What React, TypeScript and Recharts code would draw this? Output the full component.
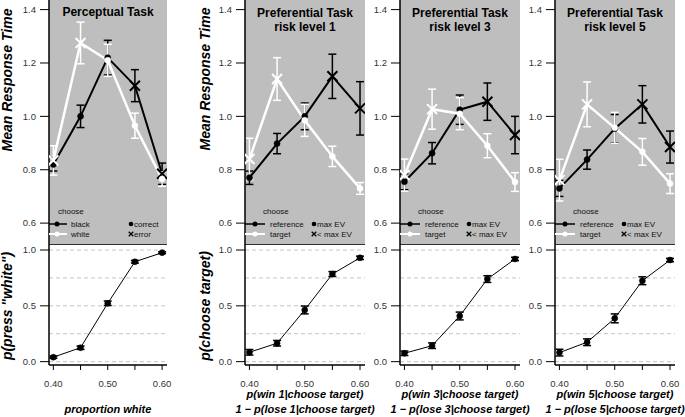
import React from 'react';
import { LineChart, Line, XAxis, YAxis, ErrorBar, CartesianGrid, ReferenceLine } from 'recharts';

// ---------- data ----------
const X_VALUES = [0.4, 0.45, 0.5, 0.55, 0.6];
const X_LABELED = [0.4, 0.5, 0.6];
const RT_TICKS = [0.6, 0.8, 1.0, 1.2, 1.4];
const P_TICKS = [0, 0.5, 1];
const P_GRID = [0, 0.25, 0.5, 0.75, 1];

type Shape = 'o' | 'x';

// Perceptual task
const P1_BLACK_RT = [0.82, 1.0, 1.22, 1.115, 0.785];
const P1_BLACK_ERR = [0.025, 0.042, 0.065, 0.06, 0.04];
const P1_BLACK_SHAPE: Shape[] = ['o', 'o', 'o', 'x', 'x'];
const P1_WHITE_RT = [0.835, 1.275, 1.21, 0.965, 0.765];
const P1_WHITE_ERR = [0.055, 0.078, 0.06, 0.047, 0.027];
const P1_WHITE_SHAPE: Shape[] = ['x', 'x', 'o', 'o', 'o'];
const P1_CHOICE = [0.04, 0.125, 0.523, 0.895, 0.976];
const P1_CHOICE_ERR = [0.01, 0.015, 0.02, 0.012, 0.008];

// Preferential risk level 1
const P2_REF_RT = [0.77, 0.898, 1.0, 1.15, 1.03];
const P2_REF_ERR = [0.025, 0.038, 0.05, 0.083, 0.1];
const P2_TGT_RT = [0.84, 1.14, 0.985, 0.85, 0.73];
const P2_TGT_ERR = [0.078, 0.08, 0.06, 0.038, 0.022];
const P2_CHOICE = [0.084, 0.165, 0.463, 0.785, 0.93];
const P2_CHOICE_ERR = [0.025, 0.025, 0.035, 0.022, 0.015];

// Preferential risk level 3
const P3_REF_RT = [0.755, 0.862, 1.025, 1.055, 0.93];
const P3_REF_ERR = [0.03, 0.04, 0.055, 0.07, 0.07];
const P3_TGT_RT = [0.78, 1.027, 1.01, 0.89, 0.754];
const P3_TGT_ERR = [0.06, 0.075, 0.06, 0.045, 0.035];
const P3_CHOICE = [0.075, 0.143, 0.409, 0.74, 0.92];
const P3_CHOICE_ERR = [0.02, 0.025, 0.035, 0.03, 0.015];

// Preferential risk level 5
const P4_REF_RT = [0.73, 0.838, 0.954, 1.045, 0.885];
const P4_REF_ERR = [0.03, 0.036, 0.053, 0.07, 0.06];
const P4_TGT_RT = [0.761, 1.045, 0.957, 0.867, 0.748];
const P4_TGT_ERR = [0.078, 0.084, 0.058, 0.05, 0.037];
const P4_CHOICE = [0.081, 0.174, 0.388, 0.725, 0.91];
const P4_CHOICE_ERR = [0.03, 0.03, 0.04, 0.035, 0.015];

const PREF_REF_SHAPE: Shape[] = ['o', 'o', 'o', 'x', 'x'];
const PREF_TGT_SHAPE: Shape[] = ['x', 'x', 'o', 'o', 'o'];

// ---------- style ----------
const FONT = '"Liberation Sans", Arial, Helvetica, sans-serif';
const GRAY = '#bebebe';
const AXIS_W = 35;
const RIGHT_PAD = 12;
const TOP_H = 245;
const BOT_PLOT_H = 120;
const X_AXIS_H = 30;
const X_DOMAIN: [number, number] = [0.392, 0.609];
const RT_DOMAIN: [number, number] = [0.518, 1.436];
const P_DOMAIN: [number, number] = [-0.03, 1.045];

interface PanelDef {
  plotLeft: number;
  plotWidth: number;
  aRT: number[]; aErr: number[]; aShape: Shape[];
  bRT: number[]; bErr: number[]; bShape: Shape[];
  choice: number[]; choiceErr: number[];
}

const PANELS: PanelDef[] = [
  { plotLeft: 49, plotWidth: 118, aRT: P1_BLACK_RT, aErr: P1_BLACK_ERR, aShape: P1_BLACK_SHAPE, bRT: P1_WHITE_RT, bErr: P1_WHITE_ERR, bShape: P1_WHITE_SHAPE, choice: P1_CHOICE, choiceErr: P1_CHOICE_ERR },
  { plotLeft: 245, plotWidth: 120, aRT: P2_REF_RT, aErr: P2_REF_ERR, aShape: PREF_REF_SHAPE, bRT: P2_TGT_RT, bErr: P2_TGT_ERR, bShape: PREF_TGT_SHAPE, choice: P2_CHOICE, choiceErr: P2_CHOICE_ERR },
  { plotLeft: 400, plotWidth: 120, aRT: P3_REF_RT, aErr: P3_REF_ERR, aShape: PREF_REF_SHAPE, bRT: P3_TGT_RT, bErr: P3_TGT_ERR, bShape: PREF_TGT_SHAPE, choice: P3_CHOICE, choiceErr: P3_CHOICE_ERR },
  { plotLeft: 555, plotWidth: 120, aRT: P4_REF_RT, aErr: P4_REF_ERR, aShape: PREF_REF_SHAPE, bRT: P4_TGT_RT, bErr: P4_TGT_ERR, bShape: PREF_TGT_SHAPE, choice: P4_CHOICE, choiceErr: P4_CHOICE_ERR },
];

function makeDot(color: string, shapes: Shape[], r = 3) {
  return (props: any) => {
    const { cx, cy, index } = props;
    const key = `dot-${color}-${index}`;
    if (cx == null || cy == null) return <g key={key} />;
    if (shapes[index] === 'x') {
      const s = 5;
      return (
        <path key={key} d={`M${cx - s},${cy - s}L${cx + s},${cy + s}M${cx - s},${cy + s}L${cx + s},${cy - s}`}
          stroke={color} strokeWidth={2} fill="none" />
      );
    }
    return <circle key={key} cx={cx} cy={cy} r={r} fill={color} stroke={color} strokeWidth={0.5} />;
  };
}

const tickStyle = { fontSize: 9.5, fill: '#333', fontFamily: FONT };

function TopChart({ p }: { p: PanelDef }) {
  const data = X_VALUES.map((x, i) => ({ x, a: p.aRT[i], aErr: p.aErr[i], b: p.bRT[i], bErr: p.bErr[i] }));
  return (
    <div style={{ position: 'absolute', left: p.plotLeft - AXIS_W, top: 0 }}>
      <LineChart width={AXIS_W + p.plotWidth} height={TOP_H} data={data} margin={{ top: 0, right: 0, bottom: 0, left: 0 }}>
        <CartesianGrid fill={GRAY} stroke="none" horizontal={false} vertical={false} />
        <XAxis dataKey="x" type="number" domain={X_DOMAIN} allowDataOverflow hide />
        <YAxis type="number" domain={RT_DOMAIN} allowDataOverflow ticks={RT_TICKS} interval={0} width={AXIS_W}
          tickFormatter={(v: number) => v.toFixed(1)} tick={tickStyle} tickSize={9} tickMargin={4}
          tickLine={{ stroke: '#000', strokeWidth: 1 }} axisLine={{ stroke: '#000', strokeWidth: 1.5 }} />
        <ReferenceLine y={RT_DOMAIN[0]} stroke="#000" strokeWidth={1.5} />
        <Line dataKey="a" stroke="#000" strokeWidth={2} dot={makeDot('#000', p.aShape)} isAnimationActive={false}>
          <ErrorBar dataKey="aErr" width={4} stroke="#000" strokeWidth={1.5} />
        </Line>
        <Line dataKey="b" stroke="#fff" strokeWidth={2.5} dot={makeDot('#fff', p.bShape)} isAnimationActive={false}>
          <ErrorBar dataKey="bErr" width={4} stroke="#fff" strokeWidth={1.5} />
        </Line>
      </LineChart>
    </div>
  );
}

function BottomChart({ p }: { p: PanelDef }) {
  const data = X_VALUES.map((x, i) => ({ x, c: p.choice[i], cErr: p.choiceErr[i] }));
  return (
    <div style={{ position: 'absolute', left: p.plotLeft - AXIS_W, top: TOP_H }}>
      <LineChart width={AXIS_W + p.plotWidth + RIGHT_PAD} height={BOT_PLOT_H + X_AXIS_H} data={data}
        margin={{ top: 0, right: RIGHT_PAD, bottom: 0, left: 0 }}>
        <XAxis dataKey="x" type="number" domain={X_DOMAIN} allowDataOverflow ticks={X_VALUES} interval={0} height={X_AXIS_H}
          tickFormatter={(v: number) => (X_LABELED.some((t) => Math.abs(t - v) < 1e-6) ? v.toFixed(2) : '')}
          tick={tickStyle} tickSize={5} tickMargin={10}
          tickLine={{ stroke: '#000', strokeWidth: 1 }} axisLine={{ stroke: '#000', strokeWidth: 1.5 }} />
        <YAxis type="number" domain={P_DOMAIN} allowDataOverflow ticks={P_TICKS} interval={0} width={AXIS_W}
          tickFormatter={(v: number) => v.toFixed(1)} tick={tickStyle} tickSize={9} tickMargin={4}
          tickLine={{ stroke: '#000', strokeWidth: 1 }} axisLine={{ stroke: '#000', strokeWidth: 1.5 }} />
        {P_GRID.map((g) => (
          <ReferenceLine key={g} y={g} stroke="#c4c4c4" strokeWidth={1} strokeDasharray="4 3" />
        ))}
        <Line dataKey="c" stroke="#000" strokeWidth={1} dot={makeDot('#000', ['o', 'o', 'o', 'o', 'o'], 3)} isAnimationActive={false}>
          <ErrorBar dataKey="cErr" width={4} stroke="#000" strokeWidth={1.5} />
        </Line>
      </LineChart>
    </div>
  );
}

function XMark({ x, y, s, color, w }: { x: number; y: number; s: number; color: string; w: number }) {
  return <path d={`M${x - s},${y - s}L${x + s},${y + s}M${x - s},${y + s}L${x + s},${y - s}`} stroke={color} strokeWidth={w} fill="none" />;
}

function Legend({ pl, perceptual }: { pl: number; perceptual: boolean }) {
  const lf = { fontSize: 8, fontFamily: FONT, fill: '#111' };
  const chooseX = perceptual ? pl + 9 : pl + 18;
  const lineEnd = perceptual ? pl + 18 : pl + 20;
  const dotX = perceptual ? pl + 8 : pl + 10;
  const textX = perceptual ? pl + 22 : pl + 25;
  const rDot = perceptual ? pl + 82 : pl + 69;
  const rText = perceptual ? pl + 85 : pl + 72;
  const y1 = 224;
  const y2 = 234;
  return (
    <g>
      <text x={chooseX} y={214} {...lf}>choose</text>
      <line x1={pl} y1={y1} x2={lineEnd} y2={y1} stroke="#000" strokeWidth={1.5} />
      <circle cx={dotX} cy={y1} r={2.5} fill="#000" />
      <text x={textX} y={y1 + 3} {...lf}>{perceptual ? 'black' : 'reference'}</text>
      <line x1={pl} y1={y2} x2={lineEnd} y2={y2} stroke="#fff" strokeWidth={2} />
      <circle cx={dotX} cy={y2} r={2.5} fill="#fff" />
      <text x={textX} y={y2 + 3} {...lf}>{perceptual ? 'white' : 'target'}</text>
      <circle cx={rDot} cy={y1} r={2.3} fill="#000" />
      <text x={rText} y={y1 + 3} {...lf}>{perceptual ? 'correct' : 'max EV'}</text>
      <XMark x={rDot} y={y2} s={2.3} color="#000" w={1.3} />
      <text x={rText} y={y2 + 3} {...lf}>{perceptual ? 'error' : '< max EV'}</text>
    </g>
  );
}

function Overlay() {
  const title = { fontSize: 12, fontWeight: 700, fontFamily: FONT, fill: '#000', textAnchor: 'middle' as const };
  const yTitle = { fontSize: 14, fontWeight: 700, fontStyle: 'italic', fontFamily: FONT, fill: '#000', textAnchor: 'middle' as const };
  const xTitle = { fontSize: 11, fontWeight: 700, fontStyle: 'italic', fontFamily: FONT, fill: '#000', textAnchor: 'middle' as const };
  const centers = PANELS.map((p) => p.plotLeft + p.plotWidth / 2);
  return (
    <svg width={685} height={417} style={{ position: 'absolute', left: 0, top: 0, pointerEvents: 'none' }}>
      <text x={centers[0]} y={16} {...title}>Perceptual Task</text>
      {[1, 3, 5].map((lvl, i) => (
        <g key={lvl}>
          <text x={centers[i + 1]} y={17} {...title}>Preferential Task</text>
          <text x={centers[i + 1]} y={31} {...title}>{`risk level ${lvl}`}</text>
        </g>
      ))}
      <text transform="translate(12,80) rotate(-90)" {...yTitle}>Mean Response Time</text>
      <text transform="translate(210,79) rotate(-90)" {...yTitle}>Mean Response Time</text>
      <text transform="translate(12,306) rotate(-90)" {...yTitle}>p(press "white")</text>
      <text transform="translate(210,306) rotate(-90)" {...yTitle}>p(choose target)</text>
      <text x={centers[0]} y={413} {...xTitle}>proportion white</text>
      {[1, 3, 5].map((lvl, i) => (
        <g key={`xt${lvl}`}>
          <text x={centers[i + 1]} y={398} {...xTitle}>{`p(win ${lvl}|choose target)`}</text>
          <text x={centers[i + 1]} y={413} {...xTitle}>{`1 \u2212 p(lose ${lvl}|choose target)`}</text>
        </g>
      ))}
      {PANELS.map((p, i) => (
        <Legend key={i} pl={p.plotLeft} perceptual={i === 0} />
      ))}
    </svg>
  );
}

export default function App() {
  return (
    <div style={{ position: 'absolute', left: 0, top: 0, width: 685, height: 417, background: '#fff', overflow: 'hidden', fontFamily: FONT }}>
      {PANELS.map((p, i) => (
        <React.Fragment key={i}>
          <TopChart p={p} />
          <BottomChart p={p} />
        </React.Fragment>
      ))}
      <Overlay />
    </div>
  );
}
